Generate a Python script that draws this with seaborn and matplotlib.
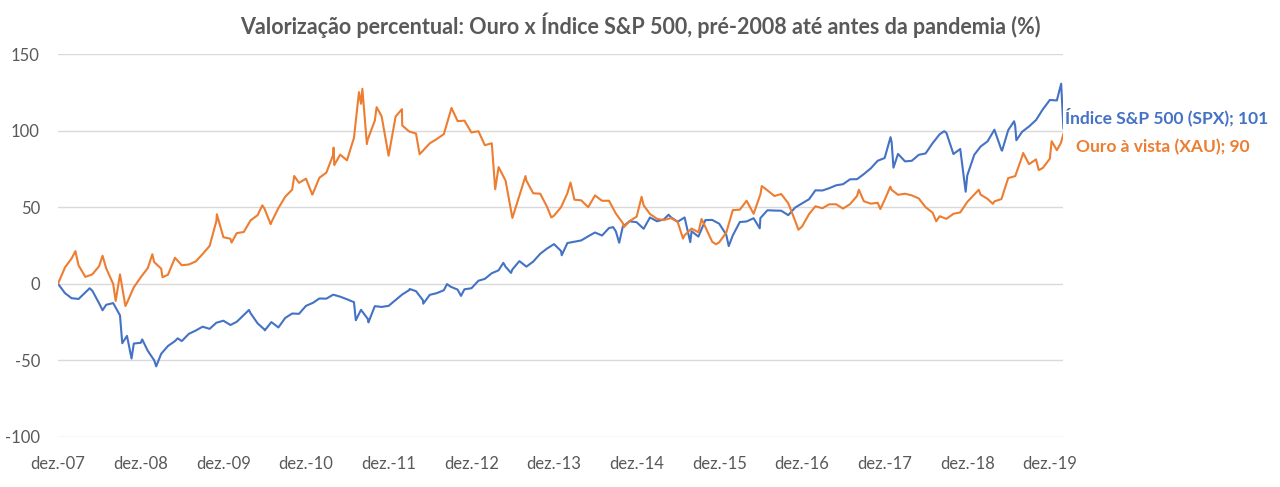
import matplotlib
matplotlib.use("Agg")
import matplotlib.pyplot as plt
import pandas as pd
import seaborn as sns

# Month-end values, % change since 31/12/2007
month_ends = pd.date_range("2007-12-31", "2020-02-29", freq="ME")

spx_monthly = [
    0.0, -6.1, -9.4, -9.9, -5.6, -4.6, -12.8, -13.7, -12.6, -20.6, -34.0, -39.0,
    -38.5, -43.8, -49.9, -45.7, -40.6, -37.4, -37.4, -32.7, -30.5, -28.0, -29.4, -25.4,
    -24.1, -26.9, -24.8, -20.4, -19.2, -25.8, -29.8, -25.0, -28.5, -22.3, -19.4, -19.6,
    -14.4, -12.4, -9.6, -9.7, -7.1, -8.4, -10.1, -12.0, -17.0, -22.9, -14.6, -15.1,
    -14.4, -10.6, -7.0, -4.1, -4.8, -10.8, -7.2, -6.1, -4.2, -1.9, -3.8, -3.6,
    -2.9, 2.0, 3.2, 6.9, 8.8, 11.1, 9.4, 14.8, 11.2, 14.5, 19.6, 23.0,
    25.9, 21.4, 26.6, 27.5, 28.3, 31.0, 33.5, 31.5, 36.4, 34.3, 37.4, 40.8,
    40.2, 35.9, 43.3, 40.8, 42.0, 43.5, 40.5, 43.3, 34.3, 30.8, 41.6, 41.7,
    39.2, 32.1, 31.6, 40.3, 40.7, 42.8, 42.9, 48.0, 47.8, 47.7, 44.8, 49.7,
    52.5, 55.2, 61.0, 60.9, 62.4, 64.3, 65.0, 68.2, 68.3, 71.6, 75.4, 80.3,
    82.1, 92.3, 84.8, 79.9, 80.3, 84.2, 85.1, 91.8, 97.6, 98.5, 84.7, 88.0,
    70.7, 84.2, 89.6, 93.0, 100.6, 87.4, 100.3, 103.0, 99.3, 102.7, 106.9, 113.9,
    120.0, 119.7, 101.2,
]

gold_monthly = [
    0.0, 10.7, 16.5, 12.0, 4.5, 6.2, 11.6, 10.1, -0.1, 6.1, -12.4, -2.3,
    4.3, 10.3, 14.2, 9.9, 5.9, 17.0, 12.1, 12.6, 14.6, 19.4, 24.7, 41.0,
    30.4, 29.4, 33.1, 33.8, 41.4, 44.8, 49.2, 40.2, 49.4, 56.8, 61.5, 65.9,
    68.6, 59.2, 69.2, 72.6, 84.2, 84.3, 80.6, 95.3, 117.5, 94.3, 106.5, 109.4,
    83.6, 109.2, 103.4, 99.4, 98.1, 86.9, 91.7, 94.5, 97.7, 113.0, 106.2, 106.5,
    98.8, 99.6, 90.5, 91.7, 76.2, 67.3, 43.0, 57.7, 67.3, 59.1, 58.8, 50.3,
    44.5, 50.0, 59.1, 54.9, 54.5, 50.0, 57.7, 54.2, 54.2, 45.9, 39.6, 41.0,
    43.8, 51.2, 45.6, 42.4, 41.6, 42.9, 40.5, 31.7, 36.1, 33.6, 37.0, 27.4,
    27.1, 33.4, 48.1, 48.4, 54.2, 45.7, 58.4, 61.0, 57.3, 58.6, 52.6, 41.3,
    37.4, 45.5, 50.6, 49.3, 51.9, 51.9, 49.1, 52.0, 57.3, 53.9, 52.3, 52.9,
    54.8, 61.3, 58.1, 58.8, 57.7, 55.7, 50.0, 46.4, 44.1, 42.4, 45.7, 46.6,
    53.4, 58.3, 58.2, 55.4, 53.8, 55.3, 69.0, 70.3, 83.3, 78.1, 81.2, 75.6,
    81.7, 87.2, 98.0,
]

# Intra-month highs/lows visible on the chart
spx_extra_dates = [
    "2008-05-19", "2008-07-15", "2008-10-10", "2008-11-20", "2009-01-06", "2009-03-09",
    "2009-06-12", "2010-04-23", "2010-07-02", "2011-08-08", "2011-10-03", "2012-04-02",
    "2012-06-01", "2012-09-14", "2012-11-15", "2013-05-21", "2013-06-24", "2014-02-03",
    "2014-09-18", "2014-10-15", "2015-05-21", "2015-08-25", "2016-02-11", "2016-06-27",
    "2018-01-26", "2018-02-08", "2018-09-20", "2018-12-24", "2019-06-03", "2019-07-26",
    "2019-08-05", "2020-02-19",
]
spx_extra = [
    -2.9, -17.3, -38.8, -48.8, -36.3, -53.9,
    -35.6, -17.1, -30.4, -23.8, -25.2, -3.4,
    -13.0, -0.2, -7.9, 13.7, 7.1, 18.6,
    37.0, 26.8, 45.1, 27.2, 24.6, 36.2,
    95.7, 75.8, 99.6, 60.1, 86.9, 106.1,
    93.7, 130.6,
]

gold_extra_dates = [
    "2008-03-17", "2008-07-15", "2008-09-11", "2008-10-24", "2009-02-20", "2009-04-06",
    "2009-12-02", "2010-02-05", "2010-06-21", "2010-07-28", "2010-11-09", "2011-01-28",
    "2011-05-02", "2011-05-05", "2011-08-22", "2011-09-06", "2011-09-26", "2011-11-08",
    "2012-02-28", "2012-05-16", "2012-10-04", "2013-04-15", "2013-08-27", "2013-12-19",
    "2014-03-14", "2014-11-05", "2015-01-22", "2015-07-24", "2015-10-14", "2015-12-17",
    "2016-07-06", "2016-12-15", "2017-09-08", "2017-12-12", "2018-01-25", "2018-08-16",
    "2019-02-20", "2019-04-23", "2019-09-04", "2019-11-12", "2020-01-08", "2020-02-18",
]
gold_extra = [
    21.3, 18.3, -11.2, -14.5, 19.3, 4.3,
    45.4, 26.9, 51.2, 38.9, 70.4, 58.2,
    88.9, 77.5, 125.1, 127.3, 91.2, 115.3,
    114.0, 84.6, 114.8, 61.7, 70.3, 43.3,
    66.1, 37.0, 56.8, 29.5, 42.3, 25.8,
    63.8, 35.3, 61.4, 48.8, 63.4, 40.8,
    61.4, 52.2, 85.4, 74.2, 93.1, 92.0,
]

spx_name = "Índice S&P 500 (SPX)"
gold_name = "Ouro à vista (XAU)"
spx_last, gold_last = 101, 90
tick_years = list(range(2007, 2020))

blue = "#4472C4"
orange = "#ED7D31"
grey = "#595959"

spx = pd.DataFrame({
    "date": list(month_ends) + list(pd.to_datetime(spx_extra_dates)),
    "value": spx_monthly + spx_extra,
})
spx["serie"] = spx_name
gold = pd.DataFrame({
    "date": list(month_ends) + list(pd.to_datetime(gold_extra_dates)),
    "value": gold_monthly + gold_extra,
})
gold["serie"] = gold_name
df = pd.concat([spx, gold]).sort_values("date")

sns.set_style("white")
plt.rcParams["font.family"] = ["Lato", "DejaVu Sans"]
plt.rcParams["axes.unicode_minus"] = False

fig = plt.figure(figsize=(12.8, 4.87), dpi=100)
ax = fig.add_axes([0.0453, 0.1027, 0.7855, 0.7864])

sns.lineplot(data=df, x="date", y="value", hue="serie", estimator=None, sort=True,
             palette={spx_name: blue, gold_name: orange}, linewidth=1.5,
             legend=False, ax=ax, zorder=3)

ax.set_ylim(-100, 150)
ax.set_yticks(range(-100, 151, 50))
ax.set_xlim(pd.Timestamp("2007-12-31"), pd.Timestamp("2020-02-29"))
ticks = [pd.Timestamp(f"{y}-12-31") for y in tick_years]
ax.set_xticks(ticks)
ax.set_xticklabels([f"dez.-{y % 100:02d}" for y in tick_years])

ax.grid(axis="y", color="#D9D9D9", linewidth=1.0)
ax.grid(axis="x", visible=False)
for s in ax.spines.values():
    s.set_visible(False)
ax.tick_params(axis="y", length=0, pad=13, labelsize=12, labelcolor=grey)
ax.tick_params(axis="x", length=0, pad=14, labelsize=12, labelcolor=grey)
ax.set_xlabel("")
ax.set_ylabel("")

fig.suptitle("Valorização percentual: Ouro x Índice S&P 500, pré-2008 até antes da pandemia (%)",
             x=0.5, y=0.975, fontsize=15.5, fontweight="bold", color=grey)

end = pd.Timestamp("2020-02-28")
ax.annotate(f"{spx_name}; {spx_last}", xy=(end, 109), xytext=(1, 0),
            textcoords="offset points", color=blue, fontsize=12.5,
            fontweight="bold", va="center", ha="left", annotation_clip=False)
ax.annotate(f"{gold_name}; {gold_last}", xy=(end, 89.5), xytext=(9, 0),
            textcoords="offset points", color=orange, fontsize=12.5,
            fontweight="bold", va="center", ha="left", annotation_clip=False)

fig.savefig("out.png", dpi=100)
